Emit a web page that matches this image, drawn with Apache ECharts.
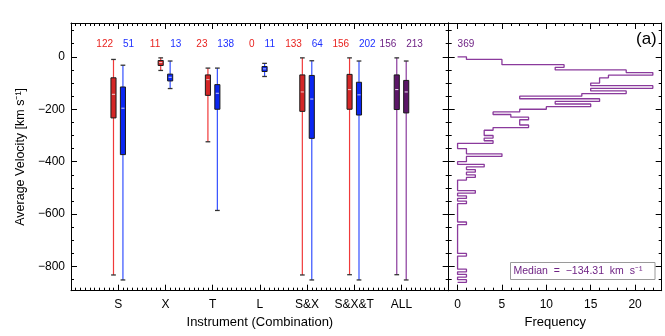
<!DOCTYPE html>
<html><head><meta charset="utf-8">
<script src="https://cdn.jsdelivr.net/npm/echarts@6/dist/echarts.min.js"></script>
<style>html,body{margin:0;padding:0;background:#fff}#c{width:665px;height:336px}</style>
</head><body><div id="c"></div>
<script>
// ---------------- data ----------------
const categories = ['S', 'X', 'T', 'L', 'S&X', 'S&X&T', 'ALL'];
// box statistics: [min, q1, median, q3, max] (km/s); null = no data
const firstStats = [
  [-832, -233, -143, -80, -10],
  [-52, -33, -22, -14, -4],
  [-324, -147, -87, -69, -43],
  null,
  [-832, -208, -134, -69, -4],
  [-831, -200, -125, -67, -4],
  [-831, -201, -125, -69, -4]
];
const secondStats = [
  [-851, -373, -196, -115, -32],
  [-121, -92, -78, -66, -16],
  [-586, -200, -139, -106, -43],
  [-75, -56, -46, -37, -25],
  [-851, -311, -161, -71, -15],
  [-851, -222, -145, -97, -16],
  [-851, -214, -134, -90, -16]
];
const firstCounts = [122, 11, 23, 0, 133, 156, 156];
const secondCounts = [51, 13, 138, 11, 64, 202, 213];
// histogram of all velocities, bins of 10 km/s starting at 0 going down
const histStart = 0;
const histBinWidth = 10;
const histCounts = [
  1, 5, 5, 12, 11, 19, 22, 17, 16, 16,
  15, 22, 15, 19, 14, 7, 16, 11, 15, 10,
  7, 4, 6, 8, 7, 7, 8, 4, 3, 3,
  4, 3, 4, 0, 0, 1, 1, 5, 1, 1,
  0, 3, 1, 2, 1, 2, 1, 0, 0, 0,
  0, 2, 0, 1, 0, 1, 0, 0, 0, 0,
  0, 0, 0, 1, 0, 0, 0, 0, 0, 0,
  0, 0, 0, 0, 0, 1, 0, 0, 0, 0,
  0, 1, 0, 1, 0, 1
];
const histTotal = 369;
const medianAll = -134.31;
const velocityTicks = [0, -200, -400, -600, -800];
const frequencyTicks = [0, 5, 10, 15, 20];

// ---------------- layout / style ----------------
const FONT = "'Liberation Sans', Arial, sans-serif";
const VMIN = -892, VMAX = 129, FMIN = -1, FMAX = 23, XMAX = 8;
const L0 = 71, T0 = 23, W0 = 377.7, H0 = 267.7, L1 = 448.7, W1 = 213;
const LABEL_V = 48;
const OFF = 0.1, BOX_W = 0.108, CAP_W = 0.1;
const yPix = v => T0 + (VMAX - v) / (VMAX - VMIN) * H0;
const auxTop = yPix(100), auxH = yPix(-850) - yPix(100);
const fLeft = L1 + (0 - FMIN) / (FMAX - FMIN) * W1;
const fW = 22 / (FMAX - FMIN) * W1;

const palette = {
  red:    {box: '#d42626', whisker: '#f03a3a', label: '#e8231f', median: '#f6c8c8'},
  blue:   {box: '#0a26f2', whisker: '#3450ff', label: '#1e30ff', median: '#c8ccff'},
  purple: {box: '#5c1668', whisker: '#8a3a9c', label: '#6e2284', median: '#f0e0f2'}
};
function colorFor(ci, g) {
  if (categories[ci] === 'ALL') return palette.purple;
  return g === 0 ? palette.red : palette.blue;
}

const boxData = [];
const labelData = [];
categories.forEach((c, i) => {
  if (firstStats[i]) boxData.push([i + 1 - OFF, ...firstStats[i], i, 0]);
  if (secondStats[i]) boxData.push([i + 1 + OFF, ...secondStats[i], i, 1]);
  labelData.push([i + 1 - 0.11, LABEL_V, firstCounts[i], i, 0]);
  labelData.push([i + 1 + 0.1, LABEL_V, secondCounts[i], i, 1]);
});

// step outline of the histogram
const histLine = [[0, histStart]];
histCounts.forEach((n, k) => {
  const top = histStart - k * histBinWidth;
  histLine.push([n, top], [n, top - histBinWidth]);
});
histLine.push([0, histStart - histCounts.length * histBinWidth]);

const fmtMinus = v => (v < 0 ? '\u2212' + Math.abs(v) : String(v));

function boxRender(params, api) {
  const x = api.value(0);
  const mn = api.value(1), q1 = api.value(2), md = api.value(3), q3 = api.value(4), mx = api.value(5);
  const col = colorFor(api.value(6), api.value(7));
  const pMax = api.coord([x, mx]), pMin = api.coord([x, mn]);
  const pQ1 = api.coord([x, q1]), pQ3 = api.coord([x, q3]), pMd = api.coord([x, md]);
  const bw = api.size([BOX_W, 0])[0], cw = api.size([CAP_W, 0])[0];
  const cx = pMax[0];
  return {type: 'group', children: [
    {type: 'line', shape: {x1: cx, y1: pMax[1], x2: cx, y2: pMin[1]}, style: {stroke: col.whisker, lineWidth: 1.2}},
    {type: 'line', shape: {x1: cx - cw / 2, y1: pMax[1], x2: cx + cw / 2, y2: pMax[1]}, style: {stroke: '#333', lineWidth: 1.3}},
    {type: 'line', shape: {x1: cx - cw / 2, y1: pMin[1], x2: cx + cw / 2, y2: pMin[1]}, style: {stroke: '#333', lineWidth: 1.3}},
    {type: 'rect', shape: {x: cx - bw / 2, y: pQ3[1], width: bw, height: pQ1[1] - pQ3[1]}, style: {fill: col.box, stroke: '#1a1a1a', lineWidth: 1}},
    {type: 'line', shape: {x1: cx - bw / 2 + 1, y1: pMd[1], x2: cx + bw / 2 - 1, y2: pMd[1]}, style: {stroke: col.median, lineWidth: 1}}
  ]};
}
function labelRender(params, api) {
  const p = api.coord([api.value(0), api.value(1)]);
  const g = api.value(4);
  const col = colorFor(api.value(3), g);
  return {type: 'text', x: p[0], y: p[1], style: {
    text: String(api.value(2)), fill: col.label, font: '10px ' + FONT,
    align: g === 0 ? 'right' : 'left', verticalAlign: 'middle'}};
}
function totalRender(params, api) {
  const p = api.coord([api.value(0), api.value(1)]);
  return {type: 'text', x: p[0], y: p[1], style: {
    text: String(api.value(2)), fill: palette.purple.label, font: '10px ' + FONT,
    align: 'left', verticalAlign: 'middle'}};
}

const black = {color: '#000', width: 1};
const tickIn = (len) => ({show: true, inside: true, length: len, lineStyle: black});
const noLabel = {show: false};
const baseVal = {type: 'value', splitLine: {show: false}, axisLine: {show: true, onZero: false, lineStyle: black}};

const option = {
  animation: false,
  backgroundColor: '#fff',
  textStyle: {fontFamily: FONT},
  grid: [
    {left: L0, top: T0, width: W0, height: H0},
    {left: L1, top: T0, width: W1, height: H0},
    {left: L0, top: auxTop, width: W0, height: auxH},
    {left: L1, top: auxTop, width: W1, height: auxH},
    {left: fLeft, top: T0, width: fW, height: H0}
  ],
  xAxis: [
    Object.assign({}, baseVal, {gridIndex: 0, position: 'bottom', min: 0, max: XMAX, interval: 1,
      axisTick: tickIn(6), minorTick: {show: true, splitNumber: 10, length: 3, lineStyle: black},
      axisLabel: {margin: 8, fontSize: 12, color: '#000', fontFamily: FONT,
        formatter: v => (v >= 1 && v <= categories.length && Math.abs(v - Math.round(v)) < 1e-6) ? categories[Math.round(v) - 1] : ''},
      name: 'Instrument (Combination)', nameLocation: 'middle', nameGap: 20,
      nameTextStyle: {fontSize: 13, color: '#000', fontFamily: FONT}}),
    Object.assign({}, baseVal, {gridIndex: 0, position: 'top', min: 0, max: XMAX, interval: 1,
      axisTick: tickIn(6), minorTick: {show: true, splitNumber: 10, length: 3, lineStyle: black},
      axisLabel: noLabel}),
    Object.assign({}, baseVal, {gridIndex: 1, position: 'bottom', min: FMIN, max: FMAX, splitNumber: 5,
      axisTick: tickIn(6),
      axisLabel: {margin: 8, fontSize: 12, color: '#000', fontFamily: FONT,
        formatter: v => frequencyTicks.indexOf(v) >= 0 ? String(v) : ''},
      name: 'Frequency', nameLocation: 'middle', nameGap: 20,
      nameTextStyle: {fontSize: 13, color: '#000', fontFamily: FONT}}),
    Object.assign({}, baseVal, {gridIndex: 1, position: 'top', min: FMIN, max: FMAX, splitNumber: 5,
      axisTick: tickIn(6), axisLabel: noLabel}),
    {type: 'value', gridIndex: 2, show: false, min: 0, max: 1},
    {type: 'value', gridIndex: 3, show: false, min: 0, max: 1},
    {type: 'value', gridIndex: 4, position: 'bottom', min: 0, max: 22, interval: 1,
      axisLine: {show: false}, splitLine: {show: false}, axisTick: tickIn(3), axisLabel: noLabel},
    {type: 'value', gridIndex: 4, position: 'top', min: 0, max: 22, interval: 1,
      axisLine: {show: false}, splitLine: {show: false}, axisTick: tickIn(3), axisLabel: noLabel}
  ],
  yAxis: [
    Object.assign({}, baseVal, {gridIndex: 0, position: 'left', min: VMIN, max: VMAX, splitNumber: 5,
      axisTick: tickIn(6),
      axisLabel: {margin: 6, fontSize: 12, color: '#000', fontFamily: FONT,
        formatter: v => velocityTicks.indexOf(v) >= 0 ? fmtMinus(v) : ''},
      name: 'Average Velocity [km s\u207B\u00B9]', nameLocation: 'middle', nameGap: 41,
      nameTextStyle: {fontSize: 12.5, color: '#000', fontFamily: FONT}}),
    Object.assign({}, baseVal, {gridIndex: 0, position: 'right', min: VMIN, max: VMAX, splitNumber: 5,
      axisTick: tickIn(6), axisLabel: noLabel}),
    Object.assign({}, baseVal, {gridIndex: 1, position: 'left', min: VMIN, max: VMAX, splitNumber: 5,
      axisTick: tickIn(6), axisLabel: noLabel}),
    Object.assign({}, baseVal, {gridIndex: 1, position: 'right', min: VMIN, max: VMAX, splitNumber: 5,
      axisTick: tickIn(6), axisLabel: noLabel}),
    {type: 'value', gridIndex: 2, position: 'left', min: -850, max: 100, interval: 50,
      axisLine: {show: false}, splitLine: {show: false}, axisTick: tickIn(3), axisLabel: noLabel},
    {type: 'value', gridIndex: 2, position: 'right', min: -850, max: 100, interval: 50,
      axisLine: {show: false}, splitLine: {show: false}, axisTick: tickIn(3), axisLabel: noLabel},
    {type: 'value', gridIndex: 3, position: 'left', min: -850, max: 100, interval: 50,
      axisLine: {show: false}, splitLine: {show: false}, axisTick: tickIn(3), axisLabel: noLabel},
    {type: 'value', gridIndex: 3, position: 'right', min: -850, max: 100, interval: 50,
      axisLine: {show: false}, splitLine: {show: false}, axisTick: tickIn(3), axisLabel: noLabel},
    {type: 'value', gridIndex: 4, show: false, min: 0, max: 1}
  ],
  series: [
    {type: 'custom', xAxisIndex: 0, yAxisIndex: 0, data: boxData, renderItem: boxRender,
      encode: {x: 0, y: 3}, silent: true},
    {type: 'custom', xAxisIndex: 0, yAxisIndex: 0, data: labelData, renderItem: labelRender,
      encode: {x: 0, y: 1}, silent: true},
    {type: 'line', xAxisIndex: 2, yAxisIndex: 2, data: histLine, symbol: 'none',
      lineStyle: {color: '#8a3a9c', width: 1.3}, silent: true, clip: true},
    {type: 'custom', xAxisIndex: 2, yAxisIndex: 2, data: [[0, LABEL_V, histTotal]], renderItem: totalRender,
      encode: {x: 0, y: 1}, silent: true}
  ],
  graphic: [
    {type: 'text', left: 636, top: 31, style: {text: '(a)', font: '17px ' + FONT, fill: '#000'}},
    {type: 'rect', shape: {x: 510.5, y: 262.5, width: 144.5, height: 17}, style: {fill: '#fff', stroke: '#9a9a9a', lineWidth: 1}},
    {type: 'text', x: 513.5, y: 271.5, style: {text: 'Median  =  ' + fmtMinus(medianAll) + '  km  s\u207B\u00B9',
      font: '10.5px ' + FONT, fill: palette.purple.label, verticalAlign: 'middle', align: 'left'}}
  ]
};
const chart = echarts.init(document.getElementById('c'), null, {renderer: 'canvas'});
chart.setOption(option);
</script>
</body></html>
